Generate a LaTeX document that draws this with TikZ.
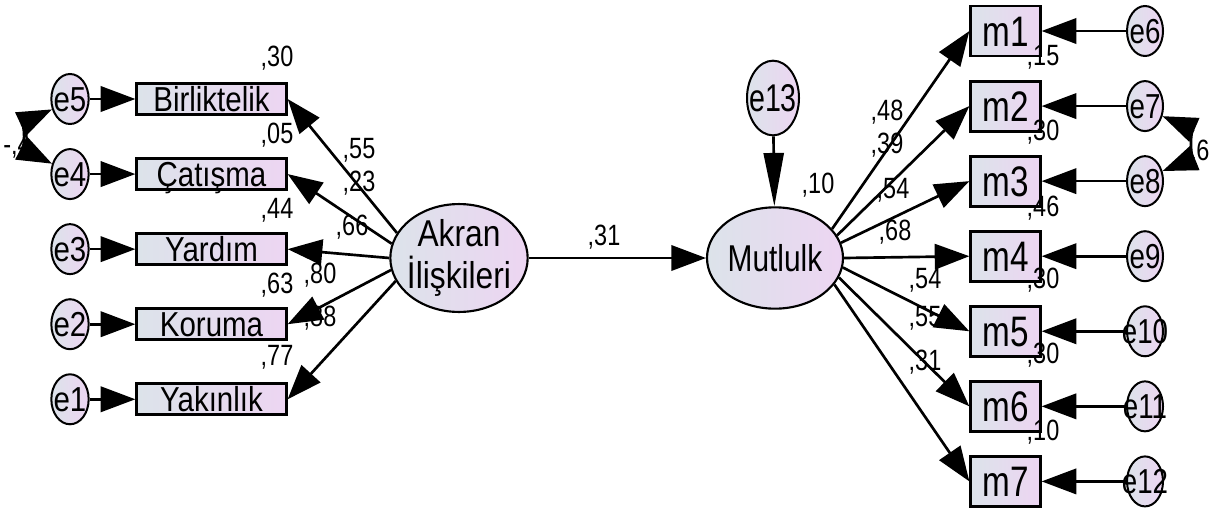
\documentclass[tikz,border=0pt]{standalone}
\usepackage{graphicx}
\usepackage{fontspec}
\setmainfont{Liberation Sans}
\usetikzlibrary{arrows.meta}
\usetikzlibrary{positioning}
\usetikzlibrary{shapes.geometric}
\definecolor{cL}{HTML}{DCE3EA}
\definecolor{cR}{HTML}{EDD5F2}
\newcommand{\nw}[2][0.8]{\makebox[0pt]{\scalebox{#1}[1]{#2}}}

\begin{document}
\begin{tikzpicture}[x=0.75pt,y=-0.75pt,on grid,node distance=56.3pt,line width=2pt,
  >={Triangle[length=26pt,width=19pt]},
  every node/.style={inner sep=0pt},
  err/.style={draw,ellipse,line width=1.5pt,left color=cL,right color=cR,minimum width=28pt,minimum height=37.5pt,font=\fontsize{26}{26}\selectfont,text height=18.5pt,text depth=0pt},
  obs/.style={draw,rectangle,line width=2.2pt,left color=cL,right color=cR,minimum width=112pt,minimum height=23pt,font=\fontsize{26}{26}\selectfont,text height=18.6pt,text depth=0pt},
  mbox/.style={draw,rectangle,line width=2.2pt,left color=cL,right color=cR,minimum width=52pt,minimum height=37.5pt,font=\fontsize{32}{32}\selectfont,text height=23pt,text depth=0pt},
  lat/.style={draw,ellipse,line width=1.6pt,left color=cL,right color=cR,minimum width=103pt,minimum height=77pt,font=\fontsize{28}{31}\selectfont,align=center},
  num/.style={font=\fontsize{22}{22}\selectfont}]
  \useasboundingbox (0,0) rectangle (1209,511);

  \node[err] (e5) at (70,99){\nw[0.85]{e5}};
  \node[err,below=of e5] (e4){\nw[0.85]{e4}};
  \node[err,below=of e4] (e3){\nw[0.85]{e3}};
  \node[err,below=of e3] (e2){\nw[0.85]{e2}};
  \node[err,below=of e2] (e1){\nw[0.85]{e1}};

  \node[obs] (bir) at (211.5,99){\nw[0.85]{Birliktelik}};
  \node[obs,below=of bir] (cat){\nw[0.85]{Çatışma}};
  \node[obs,below=of cat] (yar){\nw[0.85]{Yardım}};
  \node[obs,below=of yar] (kor){\nw[0.85]{Koruma}};
  \node[obs,below=of kor] (yak){\nw[0.85]{Yakınlık}};

  \node[lat] (akran) at (459,258){\nw[0.85]{Akran}\\\nw[0.85]{İlişkileri}};
  \node[lat,minimum width=102pt,minimum height=76pt] (mut) at (775,258){\nw{Mutlulk}};
  \node[err,minimum width=39pt,minimum height=56pt,font=\fontsize{29}{29}\selectfont,text height=20.8pt] (e13) at (773,98){\nw[0.74]{e13}};

  \node[mbox] (m1) at (1005.5,31){\nw[0.78]{m1}};
  \node[mbox,below=of m1] (m2){\nw[0.78]{m2}};
  \node[mbox,below=of m2] (m3){\nw[0.78]{m3}};
  \node[mbox,below=of m3] (m4){\nw[0.78]{m4}};
  \node[mbox,below=of m4] (m5){\nw[0.78]{m5}};
  \node[mbox,below=of m5] (m6){\nw[0.78]{m6}};
  \node[mbox,below=of m6] (m7){\nw[0.78]{m7}};

  \node[err,minimum width=27pt] (e6) at (1145,31){\nw{e6}};
  \node[err,minimum width=27pt,below=of e6] (e7){\nw{e7}};
  \node[err,minimum width=27pt,below=of e7] (e8){\nw{e8}};
  \node[err,minimum width=27pt,below=of e8] (e9){\nw{e9}};
  \node[err,minimum width=27pt,below=of e9] (e10){\nw{e10}};
  \node[err,minimum width=27pt,below=of e10] (e11){\nw{e11}};
  \node[err,minimum width=27pt,below=of e11] (e12){\nw{e12}};

  \node[num] (r5) at (277,58){\nw{,30}};
  \node[num] (r4) at (277,135){\nw{,05}};
  \node[num] (r3) at (277,210){\nw{,44}};
  \node[num] (r2) at (277,285){\nw{,63}};
  \node[num] (r1) at (277,357){\nw{,77}};
  \node[num] (l5) at (359,150){\nw{,55}};
  \node[num] (l4) at (359,183){\nw{,23}};
  \node[num] (l3) at (352,227){\nw{,66}};
  \node[num] (l2) at (320,275){\nw{,80}};
  \node[num] (l1) at (320,318){\nw{,88}};
  \node[num] (b) at (604,237){\nw{,31}};
  \node[num] (r13) at (818,185){\nw{,10}};
  \node[num] (k1) at (887,112){\nw{,48}};
  \node[num] (k2) at (887,145){\nw{,39}};
  \node[num] (k3) at (893,190){\nw{,54}};
  \node[num] (k4) at (895,232){\nw{,68}};
  \node[num] (k5) at (925,280){\nw{,54}};
  \node[num] (k6) at (925,318){\nw{,55}};
  \node[num] (k7) at (925,362){\nw{,31}};
  \node[num] (q1) at (1043,57){\nw{,15}};
  \node[num] (q2) at (1043,132){\nw{,30}};
  \node[num] (q3) at (1043,208){\nw{,46}};
  \node[num] (q4) at (1043,280){\nw{,30}};
  \node[num] (q5) at (1043,355){\nw{,30}};
  \node[num] (q6) at (1043,432){\nw{,10}};
  \node[num] (c1) at (17,146){\nw{-,4}};
  \node[num] (c2) at (1203,150){\nw{6}};

  \draw[->](e5)--(bir);
  \draw[->](e4)--(cat);
  \draw[->](e3)--(yar);
  \draw[->](e2)--(kor);
  \draw[->](e1)--(yak);
  \draw[->](akran.158)--(bir.east);
  \draw[->](akran.168)--(cat.east);
  \draw[->](akran.180)--(yar.east);
  \draw[->](akran.190)--(kor.east);
  \draw[->](akran.200)--(yak.east);
  \draw[<->](e5.210) .. controls (25,122) and (25,150) .. (e4.150);

  \draw[->](akran)--(mut);
  \draw[->,>={Triangle[length=40pt,width=15pt]}](e13)--(mut);
  \draw[->](mut.27)--(m1.west);
  \draw[->](mut.20)--(m2.west);
  \draw[->](mut.13)--(m3.west);
  \draw[->](mut.0)--(m4.west);
  \draw[->](mut.352)--(m5.west);
  \draw[->](mut.343)--(m6.west);
  \draw[->](mut.336)--(m7.west);
  \draw[->](e6)--(m1);
  \draw[->](e7)--(m2);
  \draw[->](e8)--(m3);
  \draw[->](e9)--(m4);
  \draw[->](e10)--(m5);
  \draw[->](e11)--(m6);
  \draw[->](e12)--(m7);
  \draw[<->](e7.330) .. controls (1190,128) and (1190,160) .. (e8.30);
\end{tikzpicture}
\end{document}
